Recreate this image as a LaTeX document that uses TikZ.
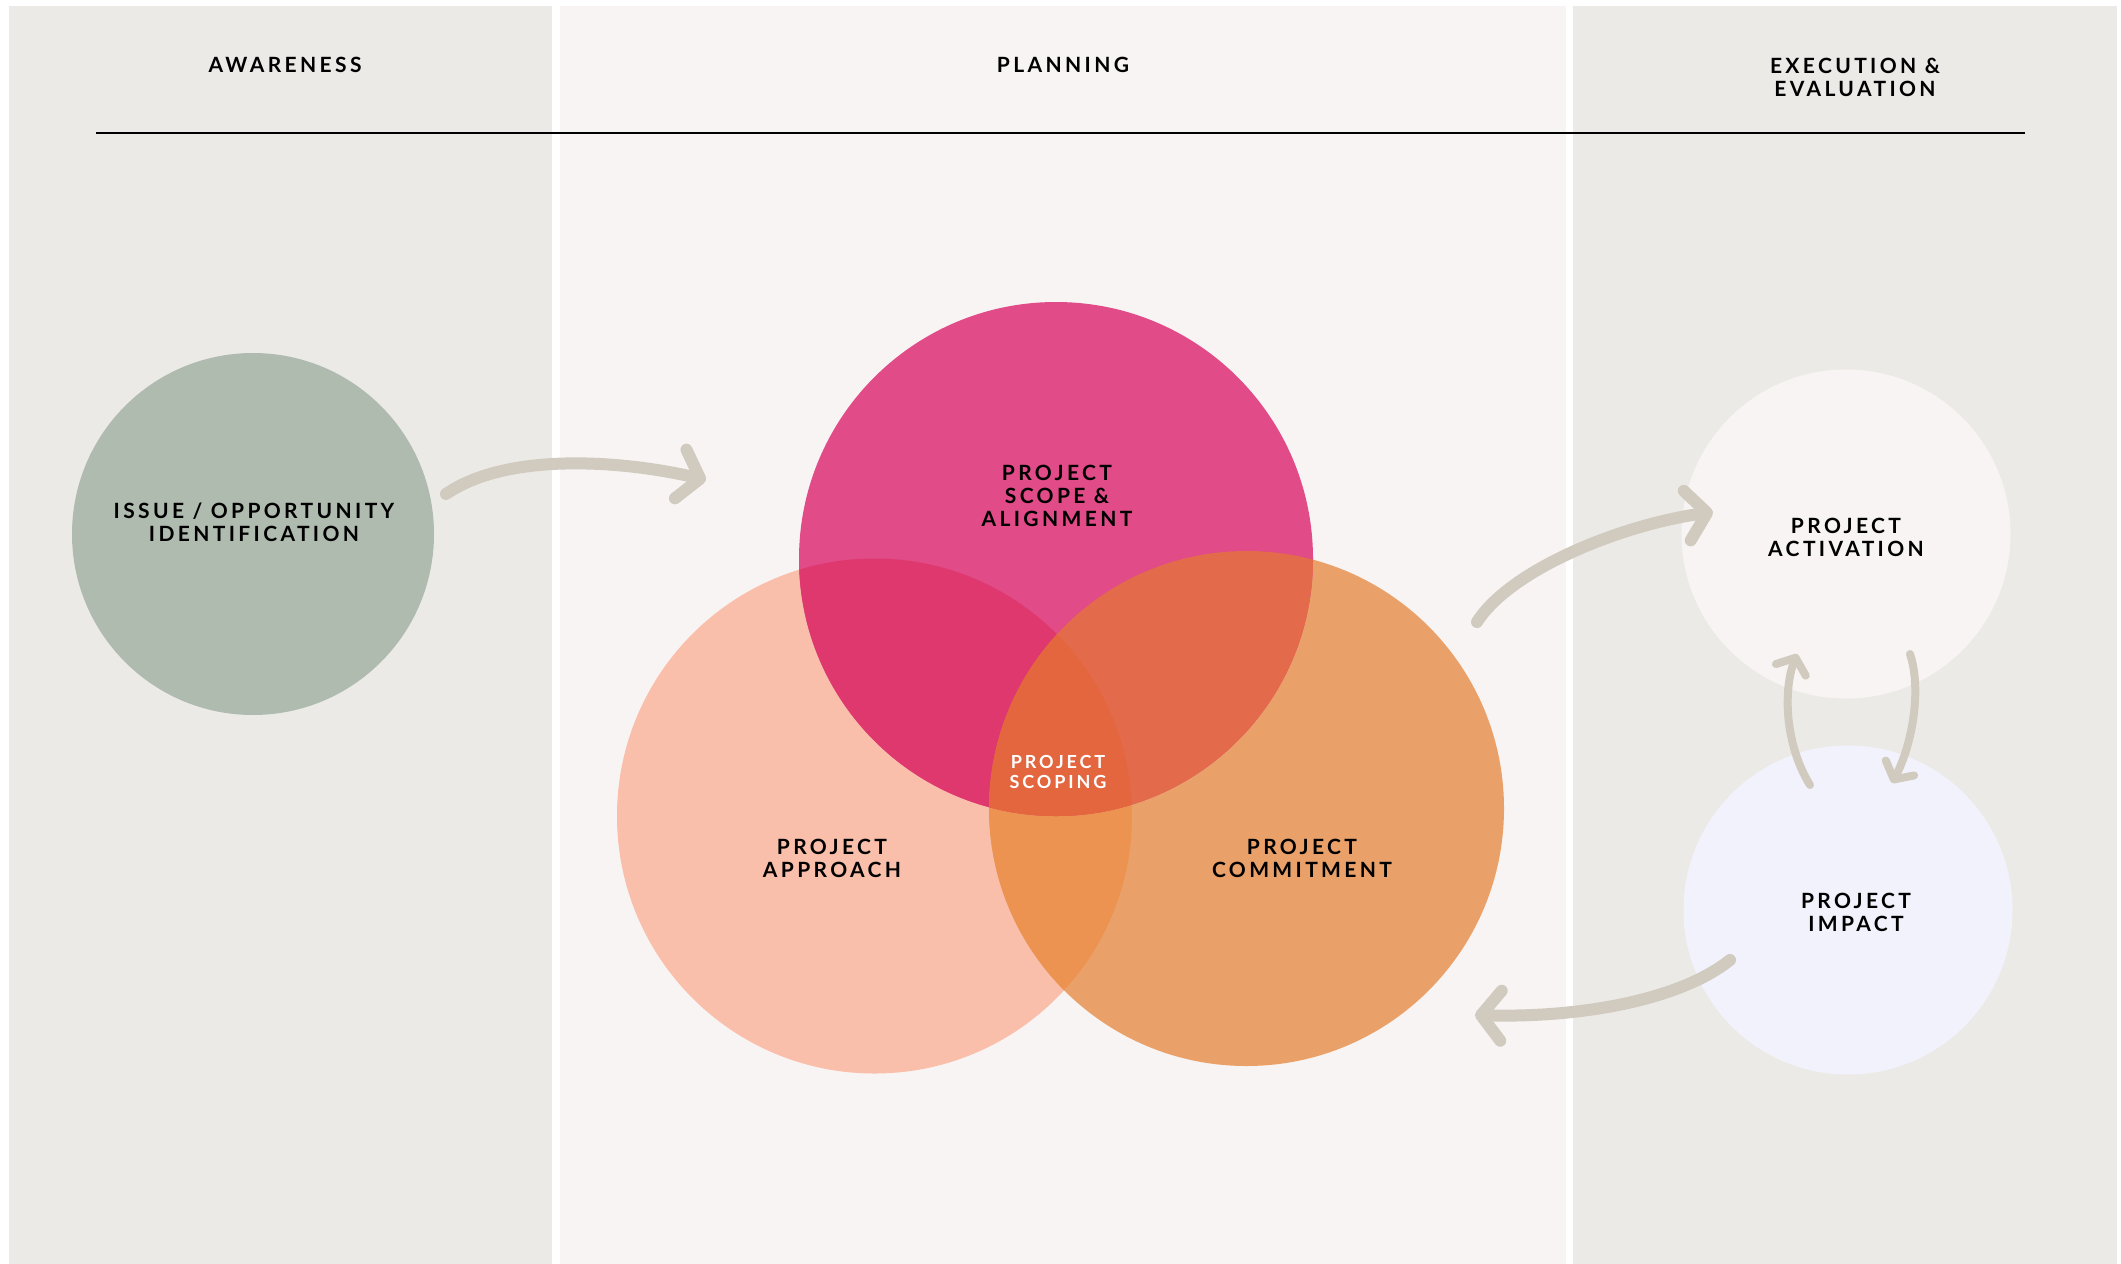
\documentclass[tikz,border=0pt]{standalone}
\usepackage{fontspec}
\setmainfont{Lato}
\newfontfamily\latolab{Lato}[LetterSpace=16]
\usetikzlibrary{arrows.meta}
\definecolor{panelgray}{HTML}{ECEAE7}
\definecolor{panelmid}{HTML}{F8F4F3}
\definecolor{sage}{HTML}{B0BBB0}
\definecolor{magentac}{HTML}{E04B88}
\definecolor{peachc}{HTML}{FABFAA}
\definecolor{orangec}{HTML}{EAA169}
\definecolor{magpeach}{HTML}{DF386E}
\definecolor{magorange}{HTML}{E36A4A}
\definecolor{peachorange}{HTML}{ED9352}
\definecolor{triplec}{HTML}{E3663F}
\definecolor{activc}{HTML}{F8F4F3}
\definecolor{impactc}{HTML}{F2F2FC}
\definecolor{arrowcol}{HTML}{D0CBBE}
\begin{document}
\begin{tikzpicture}[x=1pt,y=-1pt,
  lbl/.style={font=\latolab\bfseries\fontsize{21}{23}\selectfont, align=center, inner sep=0pt, text=black},
  smalllbl/.style={font=\latolab\bfseries\fontsize{18}{20}\selectfont, align=center, inner sep=0pt, text=white},
  disc/.style={circle, inner sep=0pt, outer sep=0pt, minimum size=#1},
  arr/.style={draw=arrowcol, line width=12pt, line cap=round, -{Straight Barb[length=20pt,width=50pt,round]}},
  sarr/.style={draw=arrowcol, line width=8pt, line cap=round, -{Straight Barb[length=13pt,width=32pt,round]}}
]
% background and panels
\fill[white] (0,0) rectangle (2121,1264);
\useasboundingbox (0,0) rectangle (2121,1264);
\fill[panelgray] (9,6) rectangle (552,1264);
\fill[panelmid] (560,6) rectangle (1566,1264);
\fill[panelgray] (1573,6) rectangle (2117,1264);

% header line
\coordinate (hl) at (96,133);
\coordinate (hr) at (2025,133);
\draw[black, line width=2pt] (hl) -- (hr);

% headers
\node[lbl] (hawareness) at (285,65) {AWARENESS};
\node[lbl] (hplanning) at (1063,65) {PLANNING};
\node[lbl] (hexec) at (1855,77) {EXECUTION \&\\EVALUATION};

% circles
\node[disc=362pt, fill=sage] (issue) at (253,534) {};
\node[disc=515pt, fill=peachc] (approach) at (874.5,816) {};
\node[disc=515pt, fill=orangec] (commit) at (1246.5,808.5) {};
\node[disc=514pt, fill=magentac] (scope) at (1056,559) {};
\begin{scope}
  \clip (approach.center) circle[radius=257.5pt];
  \fill[peachorange] (commit.center) circle[radius=257.5pt];
  \fill[magpeach] (scope.center) circle[radius=257pt];
\end{scope}
\begin{scope}
  \clip (commit.center) circle[radius=257.5pt];
  \fill[magorange] (scope.center) circle[radius=257pt];
  \clip (approach.center) circle[radius=257.5pt];
  \fill[triplec] (scope.center) circle[radius=257pt];
\end{scope}
\node[disc=329pt, fill=activc] (activation) at (1846,534) {};
\node[disc=329pt, fill=impactc] (impact) at (1848,910) {};

% labels
\node[lbl] (lissue) at (254,522) {ISSUE / OPPORTUNITY\\IDENTIFICATION};
\node[lbl] (lscope) at (1057,496) {PROJECT\\SCOPE \&\\ALIGNMENT};
\node[smalllbl] (lscoping) at (1058,772) {PROJECT\\SCOPING};
\node[lbl] (lapproach) at (832,858) {PROJECT\\APPROACH};
\node[lbl] (lcommit) at (1302,858) {PROJECT\\COMMITMENT};
\node[lbl] (lactiv) at (1846,537) {PROJECT\\ACTIVATION};
\node[lbl] (limpact) at (1856,912) {PROJECT\\IMPACT};

% arrow end points
\coordinate (a1s) at (446,494);
\coordinate (a1e) at (706,480);
\coordinate (a2s) at (1477,622);
\coordinate (a2e) at (1713,512);
\coordinate (a3s) at (1730,960);
\coordinate (a3e) at (1475,1015);
\coordinate (a4s) at (1810,785);
\coordinate (a4e) at (1797,654);
\coordinate (a5s) at (1910,654);
\coordinate (a5e) at (1892,783);

% arrows
\draw[arr] (a1s) .. controls (510,450) and (630,462) .. (a1e);
\draw[arr] (a2s) .. controls (1510,570) and (1620,525) .. (a2e);
\draw[arr] (a3s) .. controls (1680,1000) and (1580,1018) .. (a3e);
\draw[sarr] (a4s) .. controls (1785,745) and (1783,690) .. (a4e);
\draw[sarr] (a5s) .. controls (1922,690) and (1912,745) .. (a5e);
\end{tikzpicture}
\end{document}
